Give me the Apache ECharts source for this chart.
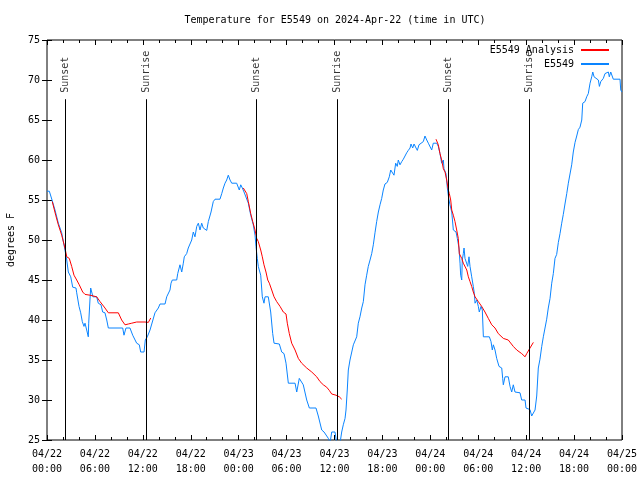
<!DOCTYPE html>
<html>
<head>
<meta charset="utf-8">
<script src="https://cdn.jsdelivr.net/npm/echarts@6/dist/echarts.min.js"></script>
<style>html,body{margin:0;padding:0;background:#fff}#c{width:640px;height:480px}</style>
</head>
<body>
<div id="c"></div>
<script>
// Hours since 2024-04-22 00:00 UTC
var xTickDates = ['04/22','04/22','04/22','04/22','04/23','04/23','04/23','04/23','04/24','04/24','04/24','04/24','04/25'];
var xTickTimes = ['00:00','06:00','12:00','18:00','00:00','06:00','12:00','18:00','00:00','06:00','12:00','18:00','00:00'];

var obsHours = [0,0.29,0.63,1.0,1.42,1.84,2.25,2.47,2.67,2.97,3.22,3.63,3.72,4.01,4.22,4.42,4.63,4.76,4.97,5.17,5.22,5.38,5.47,5.72,5.75,6.22,6.42,6.76,6.97,7.26,7.48,7.68,9.48,9.64,9.89,10.39,10.73,11.23,11.56,11.73,12.15,12.31,12.56,12.9,13.11,13.52,13.94,14.15,14.78,14.99,15.4,15.53,15.69,16.24,16.37,16.65,16.87,17.07,17.19,17.49,17.69,17.91,18.12,18.32,18.53,18.75,18.95,19.16,19.37,19.57,20.0,20.2,20.54,20.82,21.04,21.66,21.88,22.08,22.29,22.5,22.7,22.92,23.13,23.75,23.95,24.08,24.26,24.46,24.67,24.92,25.21,25.51,25.83,26.05,26.17,26.33,26.46,26.58,26.76,26.96,27.17,27.3,27.71,28.01,28.26,28.43,29.09,29.39,29.68,29.93,30.22,31.06,31.27,31.59,31.81,32.09,32.52,32.85,33.68,33.97,34.4,34.69,35.23,35.44,35.65,36.06,36.28,36.69,36.9,37.1,37.32,37.44,37.6,37.73,37.94,38.15,38.36,38.57,38.78,38.98,39.19,39.41,39.61,39.82,40.03,40.23,40.45,40.66,40.86,41.07,41.28,41.49,41.7,41.91,42.11,42.32,42.61,42.86,43.04,43.24,43.45,43.66,43.86,43.99,44.2,44.42,44.62,44.83,45.04,45.24,45.46,45.58,45.79,45.96,46.21,46.37,46.58,46.8,47.12,47.33,47.55,47.75,48.17,48.37,48.8,49.0,49.21,49.42,49.63,49.71,49.96,50.13,50.3,50.46,50.68,50.88,51.22,51.38,51.59,51.72,51.8,51.93,52.0,52.13,52.22,52.34,52.56,52.68,52.84,52.97,53.18,53.38,53.51,53.6,53.81,54.01,54.13,54.35,54.51,54.64,55.39,55.6,55.76,55.89,56.1,56.31,56.6,56.94,57.06,57.14,57.35,57.76,57.98,58.19,58.39,58.6,59.23,59.44,59.86,59.98,60.48,60.69,60.9,61.11,61.32,61.52,61.73,61.95,62.15,62.36,62.57,62.77,62.99,63.2,63.4,63.61,63.82,64.03,64.24,64.45,64.65,64.86,65.08,65.28,65.49,65.7,65.9,66.12,66.33,66.53,66.74,66.96,67.08,67.37,67.58,67.78,68.0,68.21,68.34,68.5,68.75,69.04,69.17,69.34,69.66,69.87,70.09,70.29,70.41,70.59,70.71,70.91,71.75,71.84,72.0];
var obsTemps = [56.1,56.1,55,53.75,52.1,50.9,48.75,47.5,46,45.4,44.1,44,43.4,41.7,40.9,39.8,39.2,39.6,38.75,37.9,39.6,42.5,44,44,42.9,42.9,42.1,41.9,41,40.9,40,39,39,38.1,39,39,38.1,37.1,36.9,36,36,37.5,37.9,38.75,39,40.9,41.5,42,42,42.9,43.75,44.6,45,45,45.8,46.9,46,47.1,47.9,48.3,49,49.2,50,51,50.4,51.7,52.1,51.25,52.1,51.5,51.2,52.3,53.5,54.8,55.1,55.1,55.8,56.5,57.1,57.5,58.1,57.5,57.1,57.1,56.9,56.25,56.9,56.5,56,55.8,54.6,53.1,51.9,50.6,49.2,47.7,46.7,46.25,45.6,42.9,42.1,42.9,42.9,41,38.3,37.1,37,36,35.8,34.6,32.1,32.1,31,32.7,32.5,31.9,30,29,29,28,26.25,26,25.2,24.6,26,26,24.6,24.6,26,26.9,27.7,28.75,31.25,33.75,35,35.1,36.9,37.1,37.9,39.6,40.4,41.5,42.3,44.4,45.6,46.7,47.5,48.3,49.4,50.9,52.3,53.5,54.4,55.2,56.25,57,57.2,57.9,58.75,58.9,58.1,59.6,59.2,60,59.4,59.8,60.1,60.2,60.9,61.2,61.5,62,61.5,62,61.5,61.2,61.9,62.1,62.3,63,62.5,62.1,61.25,62.1,62.1,61.7,60.8,59.6,60,58.9,58.3,56.5,55.2,54.4,53.5,51.25,51,50.2,49,47.1,45.6,45,47.5,48.3,49,47.7,47.5,46.7,47.9,46.7,45.4,44.2,43.3,42.1,42.5,41.7,41,41.7,41.25,37.9,37.9,37.3,36.25,36.9,36.25,35.2,34.2,34,32.7,31.9,32.9,32.9,31.7,31,31.9,31,30.9,30,30,29,28.8,28,28,28.75,30.5,34,35.1,36.7,37.9,39,40.1,41.5,42.7,44.6,45.8,47.7,48.2,49.7,50.8,52.1,53.2,54.5,55.8,57.1,58.25,59.4,61,62.2,63,63.8,64.1,65,67.1,67.3,67.9,68.3,69.6,70.4,71,70.4,70.2,70,69.2,69.8,70.2,70.8,71,71,70.4,71,70.8,70.1,70.1,68.75,68.5];

// null marks a gap between analysis segments
var anaHours = [0.66,1.09,1.42,1.84,2.25,2.47,2.79,3.09,3.38,3.72,4.04,4.47,4.76,5.38,6.22,6.64,6.85,7.26,7.68,8.93,9.35,9.77,10.18,10.61,11.23,12.27,12.48,12.69,12.99,
  18,
  24.58,25.01,25.21,25.51,25.76,26.05,26.26,26.46,26.76,26.96,27.17,27.42,27.64,27.84,28.14,28.43,28.76,29.18,29.59,29.93,30.09,30.34,30.64,30.84,31.06,31.47,31.89,32.52,33.15,33.77,34.19,34.6,34.81,35.02,35.35,35.65,36.19,36.6,36.9,
  42,
  48.71,48.87,49.0,49.21,49.42,49.63,49.84,50.05,50.25,50.38,50.55,50.68,50.88,51.09,51.3,51.5,51.63,51.93,52.13,52.56,52.76,52.97,53.18,53.38,53.6,54.01,54.43,54.84,55.26,55.69,56.1,56.51,57.14,57.76,58.39,58.82,59.44,59.86,60.07,60.48,60.9];
var anaTemps = [54.8,53.1,51.9,50.6,49,47.9,47.7,46.7,45.6,45,44.4,43.5,43.2,43.1,42.9,42.3,42.3,41.5,40.9,40.9,40,39.4,39.5,39.6,39.75,39.75,39.5,39.7,40.25,
  null,
  56.5,55.8,54.8,53.3,52.3,51.25,50.2,49.8,48.75,47.9,46.9,46,45,44.6,43.75,42.9,42.3,41.7,41,40.75,39.6,38.3,37.1,36.9,36.25,35.2,34.6,34,33.5,32.9,32.3,31.9,31.9,31.6,31.2,30.75,30.6,30.4,30.1,
  null,
  62.6,62.7,61.9,60.8,60,58.9,58.5,57.5,56.25,55.8,55,53.75,53.1,52.3,51.25,50.2,48.3,47.7,47.1,46.25,45.4,44.8,44.2,43.5,42.9,42.3,41.7,41,40.2,39.4,39,38.3,37.7,37.5,36.7,36.25,35.8,35.4,35.8,36.5,37.2];

var sunNames = ['Sunset','Sunrise','Sunset','Sunrise','Sunset','Sunrise'];
var sunHours = [2.27, 12.43, 26.2, 36.37, 50.25, 60.4];

var FONT = 'DejaVu Sans Mono';
function zip(a, b) { return a.map(function (v, i) { return [v, b[i]]; }); }

var sunLines = sunHours.map(function (h) { return [{ coord: [h, 67.6] }, { coord: [h, 25] }]; });
var sunLabels = sunHours.map(function (h, i) { return { name: sunNames[i], value: [h, 68.4] }; });

var chart = echarts.init(document.getElementById('c'));
var tickCommon = {
  type: 'value', min: 0, max: 72, interval: 6,
  axisLine: { show: false },
  axisTick: { show: true, inside: true, length: 5, lineStyle: { color: '#000' } },
  minorTick: { show: true, splitNumber: 3, length: 3, lineStyle: { color: '#000' } },
  splitLine: { show: false }
};
chart.setOption({
  animation: false,
  backgroundColor: '#fff',
  textStyle: { fontFamily: FONT },
  title: {
    text: 'Temperature for E5549 on 2024-Apr-22 (time in UTC)',
    left: 330, top: 10, textAlign: 'center',
    textStyle: { fontFamily: FONT, fontSize: 10, fontWeight: 'normal', color: '#000' }
  },
  legend: [
    { data: ['E5549 Analysis'], right: 31, top: 45, padding: 0, itemWidth: 28, itemHeight: 2, icon: 'rect', align: 'right',
      textStyle: { fontFamily: FONT, fontSize: 10, color: '#000', padding: [0, 2, 0, 0] } },
    { data: ['E5549'], right: 31, top: 59, padding: 0, itemWidth: 28, itemHeight: 2, icon: 'rect', align: 'right',
      textStyle: { fontFamily: FONT, fontSize: 10, color: '#000', padding: [0, 2, 0, 0] } }
  ],
  grid: { left: 47, right: 18, top: 40, bottom: 40, show: true, borderColor: '#000', borderWidth: 1,
    containLabel: false, outerBoundsMode: 'none' },
  xAxis: [
    Object.assign({}, tickCommon, {
      position: 'bottom',
      axisLabel: {
        margin: 7, fontFamily: FONT, fontSize: 10, color: '#000', lineHeight: 15,
        formatter: function (v) { var i = Math.round(v / 6); return xTickDates[i] + '\n' + xTickTimes[i]; }
      }
    }),
    Object.assign({}, tickCommon, { position: 'top', axisLabel: { show: false } })
  ],
  yAxis: [
    { type: 'value', min: 25, max: 75, interval: 5, position: 'left',
      name: 'degrees F', nameLocation: 'middle', nameGap: 31,
      nameTextStyle: { fontFamily: FONT, fontSize: 10, color: '#000' },
      axisLine: { show: false }, splitLine: { show: false },
      axisTick: { show: true, inside: true, length: 5, lineStyle: { color: '#000' } },
      axisLabel: { margin: 7, fontFamily: FONT, fontSize: 10, color: '#000' } },
    { type: 'value', min: 25, max: 75, interval: 5, position: 'right',
      axisLine: { show: false }, splitLine: { show: false },
      axisTick: { show: true, inside: true, length: 5, lineStyle: { color: '#000' } },
      axisLabel: { show: false } }
  ],
  series: [
    { name: 'E5549', type: 'line', data: zip(obsHours, obsTemps), showSymbol: false, symbol: 'none',
      lineStyle: { color: '#0a84ff', width: 1 }, itemStyle: { color: '#0a84ff' }, z: 2 },
    { name: 'E5549 Analysis', type: 'line', data: zip(anaHours, anaTemps), showSymbol: false, symbol: 'none',
      connectNulls: false, lineStyle: { color: '#ff0000', width: 1 }, itemStyle: { color: '#ff0000' }, z: 3 },
    { name: 'sun', type: 'scatter', data: sunLabels, symbolSize: 0, silent: true, z: 4,
      label: { show: true, formatter: '{b}', position: [0, 0], rotate: 90, align: 'left', verticalAlign: 'middle',
        fontFamily: FONT, fontSize: 10, color: '#000' },
      markLine: { silent: true, symbol: ['none', 'none'], label: { show: false },
        lineStyle: { color: '#000', width: 1, type: 'solid' }, data: sunLines } }
  ]
});
</script>
</body>
</html>
